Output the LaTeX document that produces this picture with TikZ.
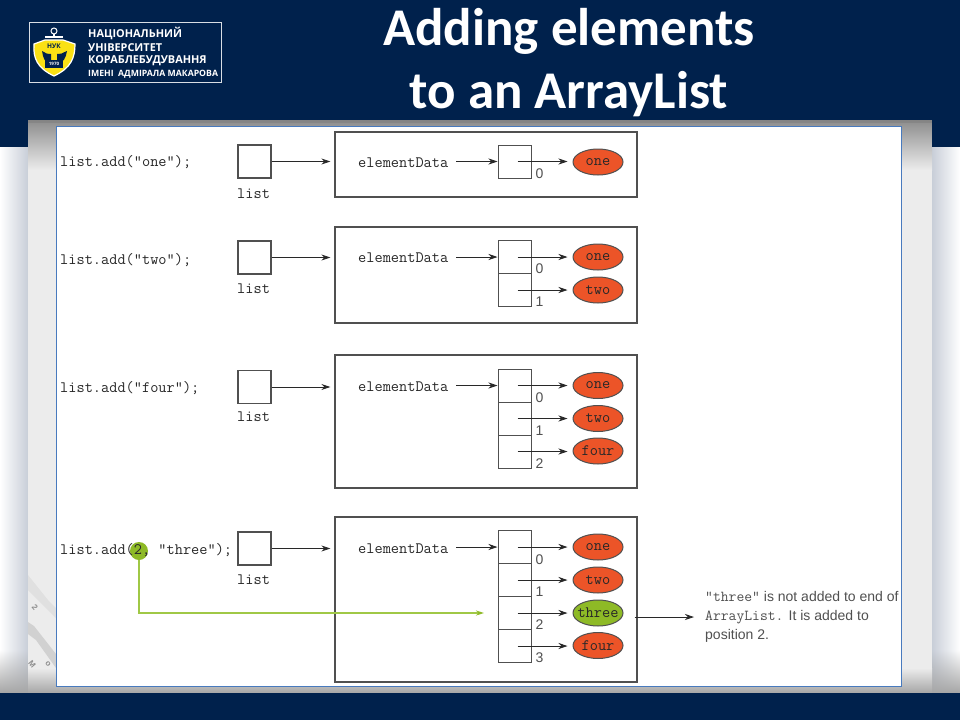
\documentclass[tikz,border=0pt]{standalone}
\usepackage{fontspec}
\setmainfont{Liberation Sans}
\newfontfamily\titlefont{Carlito}
\newfontfamily\logofont{Open Sans}
\definecolor{hdnavy}{RGB}{0,33,76}
\definecolor{panelblue}{RGB}{72,122,190}
\definecolor{stripgray}{RGB}{236,236,236}
\definecolor{sideshade}{RGB}{200,206,216}
\definecolor{inkgray}{RGB}{80,80,80}
\definecolor{codeink}{RGB}{40,40,40}
\definecolor{elemred}{RGB}{236,84,40}
\definecolor{elemgreen}{RGB}{142,186,38}
\definecolor{linegreen}{RGB}{160,200,70}
\definecolor{shieldyel}{RGB}{250,225,20}
\usetikzlibrary{arrows.meta,positioning,shapes.geometric,calc,fadings}

\begin{document}
\begin{tikzpicture}[x=1pt,y=-1pt,
  code/.style={anchor=west,inner sep=0pt,text=codeink,font=\fontsize{15.9}{18}\selectfont\ttfamily},
  refbox/.style={draw=inkgray,line width=1.2pt,minimum size=33pt,inner sep=0pt},
  cellbox/.style={draw=inkgray,line width=1pt,minimum size=33pt,inner sep=0pt},
  databox/.style={draw=inkgray,line width=1.2pt,minimum width=302pt,inner sep=0pt},
  elem/.style={ellipse,draw=inkgray,line width=1pt,fill=elemred,minimum width=50pt,minimum height=26pt,inner sep=-6pt,text=codeink,font=\fontsize{15.9}{18}\selectfont\ttfamily},
  idx/.style={inner sep=0pt,text=inkgray,font=\fontsize{14}{16}\selectfont},
  arr/.style={-{Stealth[length=9pt,width=6pt]},draw=codeink,line width=0.8pt},
  logotxt/.style={anchor=west,inner sep=0pt,text=white},
  bgkey/.style={inner sep=0pt,text=black!45,font=\bfseries\fontsize{8}{9}\selectfont}]
  \useasboundingbox (0,0) rectangle (960,720);
  % slide background
  \fill[white] (0,0) rectangle (960,720);
  \shade[left color=white,right color=sideshade] (0,147) rectangle (28,693);
  \shade[left color=sideshade,right color=white] (932,147) rectangle (960,693);
  \fill[black!35,path fading=north] (0,650) rectangle (28,693);
  \fill[black!35,path fading=north] (932,650) rectangle (960,693);
  \fill[stripgray] (28,120) rectangle (932,693);
  \shade[top color=black!45,bottom color=stripgray] (28,120) rectangle (932,170);
  \shade[top color=stripgray,bottom color=black!35] (28,668) rectangle (932,693);
  \fill[black!12] (28,575) -- (48,600) -- (56,608) -- (56,618) -- (44,606) -- (28,590) -- cycle;
  \fill[black!18] (28,622) -- (34,626) -- (56,654) -- (56,668) -- (36,640) -- (28,634) -- cycle;
  \node[bgkey,rotate=-50] (keytwo) at (35,607) {2};
  \node[bgkey,rotate=-50] (keyem) at (32,664) {M};
  \node[bgkey,rotate=-50] (keyoh) at (48,664) {o};
  \fill[hdnavy] (0,120) rectangle (28,147);
  \fill[hdnavy] (932,120) rectangle (960,147);
  \fill[hdnavy] (0,0) rectangle (960,120);
  \fill[hdnavy] (0,693) rectangle (960,720);
  \fill[black!50,opacity=0.6] (28,120) rectangle (932,123);
  \fill[white,draw=panelblue,line width=0.9pt] (56.5,126) rectangle (901,686);
  % logo
  \draw[white!85!hdnavy,line width=1pt] (29,22.5) rectangle (221.5,82);
  \draw[white,line width=1pt] (54,31) circle (3);
  \draw[white,line width=1.6pt] (54,34) -- (54,38) (45,37) -- (63,37);
  \fill[shieldyel,draw=white,line width=1.2pt] (34,44) -- (45,40) -- (63,40) -- (75,44)
    .. controls (75,58) and (71,68) .. (54,76) .. controls (37,68) and (33,58) .. (34,44) -- cycle;
  \fill[hdnavy] (42,51) .. controls (46,53) and (48,55) .. (51,54) -- (51,60) -- (57,60) -- (57,54)
    .. controls (60,55) and (62,53) .. (67,51) .. controls (66,58) and (63,62) .. (60,63)
    -- (48,63) .. controls (45,62) and (43,58) .. (42,51) -- cycle;
  \fill[hdnavy] (45,60) rectangle (63,68);
  \node[inner sep=0pt,text=hdnavy,font=\logofont\bfseries\fontsize{6.5}{7}\selectfont] (logonuk) at (54,46) {НУК};
  \node[inner sep=0pt,text=white,font=\logofont\bfseries\fontsize{4.5}{5}\selectfont] (logoyear) at (54,64) {1970};
  \node[logotxt,font=\logofont\bfseries\fontsize{10.9}{12}\selectfont] (logoa) at (88,33.5) {НАЦІОНАЛЬНИЙ};
  \node[logotxt,font=\logofont\bfseries\fontsize{10.9}{12}\selectfont] (logob) at (88,47.5) {УНІВЕРСИТЕТ};
  \node[logotxt,font=\logofont\bfseries\fontsize{10.9}{12}\selectfont] (logoc) at (88,61) {КОРАБЛЕБУДУВАННЯ};
  \node[logotxt,font=\logofont\bfseries\fontsize{8.7}{10}\selectfont] (logod) at (88,74) {ІМЕНІ\ \ АДМІРАЛА МАКАРОВА};
  % title
  \node[inner sep=0pt,text=white,font=\titlefont\bfseries\fontsize{53}{63}\selectfont,align=center] (title) at (569,62.5) {Adding elements\\to an ArrayList};
  % first add
  \node[code] (codeA) at (60,162) {list.add("one");};
  \node[refbox] (listA) at (254.5,161.5) {};
  \node[code] (lblA) at (237,193.5) {list};
  \node[databox,minimum height=65pt] (dataA) at (486,164.5) {};
  \node[code] (elemA) at (358,162.5) {elementData};
  \node[cellbox] (cellA0) at (514.5,161.5) {};
  \node[elem] (oneA) at (598,162) {one};
  \node[idx] (idxA0) at (539.5,174) {0};
  \draw[arr,shorten >=4pt] (listA.east) -- (listA.east -| dataA.west);
  \draw[arr,shorten <=8pt] (elemA.east |- cellA0.west) -- (cellA0.west);
  \draw[arr,shorten <=3pt,shorten >=5pt] (cellA0.center) -- (cellA0.center -| oneA.west);
  % second add
  \node[code] (codeB) at (60,260) {list.add("two");};
  \node[refbox] (listB) at (254.5,257.5) {};
  \node[code] (lblB) at (237,288.5) {list};
  \node[databox,minimum height=96pt] (dataB) at (486,275) {};
  \node[code] (elemB) at (358,258) {elementData};
  \node[cellbox] (cellB0) at (514.5,257) {};
  \node[cellbox] (cellB1) at (514.5,290) {};
  \node[elem] (oneB) at (598,257) {one};
  \node[elem] (twoB) at (598,290) {two};
  \node[idx] (idxB0) at (539.5,269) {0};
  \node[idx] (idxB1) at (539.5,302) {1};
  \draw[arr,shorten >=4pt] (listB.east) -- (listB.east -| dataB.west);
  \draw[arr,shorten <=8pt] (elemB.east |- cellB0.west) -- (cellB0.west);
  \draw[arr,shorten <=3pt,shorten >=5pt] (cellB0.center) -- (cellB0.center -| oneB.west);
  \draw[arr,shorten <=3pt,shorten >=5pt] (cellB1.center) -- (cellB1.center -| twoB.west);
  % third add
  \node[code] (codeC) at (60,388.5) {list.add("four");};
  \node[refbox] (listC) at (254.5,387) {};
  \node[code] (lblC) at (237,417) {list};
  \node[databox,minimum height=133pt] (dataC) at (486,421.5) {};
  \node[code] (elemC) at (358,387) {elementData};
  \node[cellbox] (cellC0) at (514.5,385.5) {};
  \node[cellbox] (cellC1) at (514.5,418.5) {};
  \node[cellbox] (cellC2) at (514.5,451.5) {};
  \node[elem] (oneC) at (598,385.5) {one};
  \node[elem] (twoC) at (598,418.5) {two};
  \node[elem] (fourC) at (598,451) {four};
  \node[idx] (idxC0) at (539.5,398) {0};
  \node[idx] (idxC1) at (539.5,431) {1};
  \node[idx] (idxC2) at (539.5,464) {2};
  \draw[arr,shorten >=4pt] (listC.east) -- (listC.east -| dataC.west);
  \draw[arr,shorten <=8pt] (elemC.east |- cellC0.west) -- (cellC0.west);
  \draw[arr,shorten <=3pt,shorten >=5pt] (cellC0.center) -- (cellC0.center -| oneC.west);
  \draw[arr,shorten <=3pt,shorten >=5pt] (cellC1.center) -- (cellC1.center -| twoC.west);
  \draw[arr,shorten <=3pt,shorten >=5pt] (cellC2.center) -- (cellC2.center -| fourC.west);
  % insert at position 2
  \node[circle,fill=elemgreen,minimum size=18pt,inner sep=0pt] (markD) at (139,551) {};
  \node[code] (codeD) at (60,550.5) {list.add(2, "three");};
  \node[refbox] (listD) at (254.5,548.5) {};
  \node[code] (lblD) at (237,580) {list};
  \node[databox,minimum height=165pt] (dataD) at (486,599.5) {};
  \node[code] (elemD) at (358,549) {elementData};
  \node[cellbox] (cellD0) at (514.5,547) {};
  \node[cellbox] (cellD1) at (514.5,580) {};
  \node[cellbox] (cellD2) at (514.5,613) {};
  \node[cellbox] (cellD3) at (514.5,646) {};
  \node[elem] (oneD) at (598,547) {one};
  \node[elem] (twoD) at (598,580) {two};
  \node[elem,fill=elemgreen] (threeD) at (598,613) {three};
  \node[elem] (fourD) at (598,645.5) {four};
  \node[idx] (idxD0) at (539.5,559.5) {0};
  \node[idx] (idxD1) at (539.5,592) {1};
  \node[idx] (idxD2) at (539.5,625) {2};
  \node[idx] (idxD3) at (539.5,658) {3};
  \node[anchor=west,inner sep=0pt,align=left,text=inkgray,font=\fontsize{14}{19}\selectfont] (noteD) at (705,617) {{\fontsize{15.2}{19}\selectfont\ttfamily "three"} is not added to end of\\{\fontsize{15.2}{19}\selectfont\ttfamily ArrayList.} It is added to\\position 2.};
  \coordinate (greenend) at (484,613);
  \draw[arr,shorten >=4pt] (listD.east) -- (listD.east -| dataD.west);
  \draw[arr,shorten <=8pt] (elemD.east |- cellD0.west) -- (cellD0.west);
  \draw[arr,shorten <=3pt,shorten >=5pt] (cellD0.center) -- (cellD0.center -| oneD.west);
  \draw[arr,shorten <=3pt,shorten >=5pt] (cellD1.center) -- (cellD1.center -| twoD.west);
  \draw[arr,shorten <=3pt,shorten >=5pt] (cellD2.center) -- (cellD2.center -| threeD.west);
  \draw[arr,shorten <=3pt,shorten >=5pt] (cellD3.center) -- (cellD3.center -| fourD.west);
  \draw[arr,shorten <=11pt,shorten >=11pt] (threeD.east |- noteD.west) -- (noteD.west);
  \draw[linegreen,line width=1.4pt,-{Stealth[length=8pt,width=5pt,color=elemgreen]}] (markD.south) |- (greenend);
\end{tikzpicture}
\end{document}
